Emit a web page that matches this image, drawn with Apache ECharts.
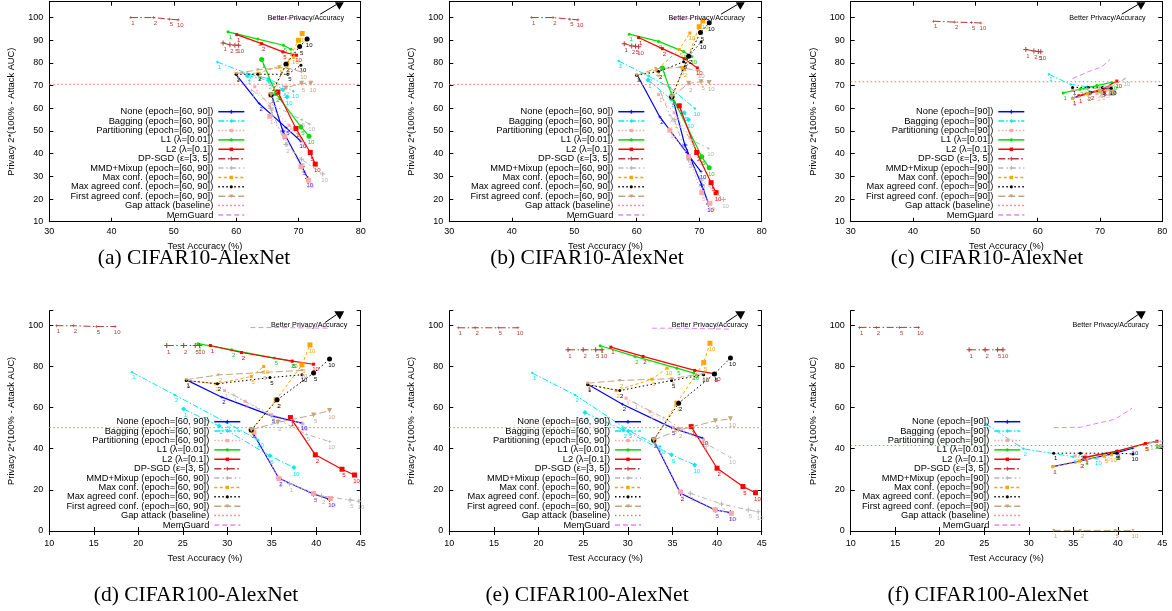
<!DOCTYPE html>
<html><head><meta charset="utf-8">
<script src="https://cdn.jsdelivr.net/npm/echarts@6/dist/echarts.min.js"></script>
<style>html,body{margin:0;padding:0;background:#fff;}#c{width:1172px;height:611px;}</style>
</head><body><div id="c"></div>
<script>
// ---------------- DATA ----------------
const ptLabels = ['1', '2', '5', '10'];
const captions = ['(a) CIFAR10-AlexNet', '(b) CIFAR10-AlexNet', '(c) CIFAR10-AlexNet',
                  '(d) CIFAR100-AlexNet', '(e) CIFAR100-AlexNet', '(f) CIFAR100-AlexNet'];
const names6090 = ['None (epoch=[60, 90])', 'Bagging (epoch=[60, 90])', 'Partitioning (epoch=[60, 90])',
  'L1 (λ=[0.01])', 'L2 (λ=[0.1])', 'DP-SGD (ε=[3, 5])', 'MMD+Mixup (epoch=[60, 90])',
  'Max conf. (epoch=[60, 90])', 'Max agreed conf. (epoch=[60, 90])', 'First agreed conf. (epoch=[60, 90])',
  'Gap attack (baseline)', 'MemGuard'];
const names90 = ['None (epoch=[90])', 'Bagging (epoch=[90])', 'Partitioning (epoch=[90])',
  'L1 (λ=[0.01])', 'L2 (λ=[0.1])', 'DP-SGD (ε=[3, 5])', 'MMD+Mixup (epoch=[90])',
  'Max conf. (epoch=[90])', 'Max agreed conf. (epoch=[90])', 'First agreed conf. (epoch=[90])',
  'Gap attack (baseline)', 'MemGuard'];
const xAxisCifar10 = [30, 80, 10];    // min, max, interval
const yAxisCifar10 = [10, 107, 10];
const xAxisCifar100 = [10, 45, 5];
const yAxisCifar100 = [0, 107, 20];
const arrowLabel = 'Better Privacy/Accuracy';
const arrowTop = [[71.2, 100], [73.5, 101.5], [77.6, 108.2]];   // text, tail, tip
const arrowBottom = [[39.2, 100], [41.0, 101.3], [43.3, 108.1]];

// (a)
const a_none = [[[60.0,74.9],[63.7,62.1],[68.0,51.5],[70.4,45.5]], [[65.7,65.8],[67.5,50.0],[70.6,34.2],[71.5,29.0]]];
const a_bag = [[[57.0,80.4],[61.8,75.3],[65.1,73.1],[69.2,67.5]], [[61.8,74.4],[65.2,72.3],[67.5,68.2],[68.2,65.0]]];
const a_part = [[[63.0,69.5],[65.4,61.0],[68.5,52.5],[70.5,46.5]], [[65.4,56.5],[67.8,47.7],[70.4,34.2],[71.6,28.3]]];
const a_l1 = [[[58.7,93.7],[63.5,90.5],[67.6,87.8],[68.8,86.0]], [[64.1,81.5],[66.4,66.5],[70.4,51.8],[71.7,47.7]]];
const a_l2 = [[[60.1,92.5],[64.1,88.5],[67.5,84.9],[69.7,83.4]], [[66.7,67.2],[69.6,51.1],[71.9,40.5],[72.7,35.4]]];
const a_dp = [[[43.1,100],[46.7,100],[49.3,99.3],[50.7,99.0]], [[57.9,88.8],[59.0,88.0],[59.8,87.8],[60.4,87.8]]];
const a_mmd = [[[62.5,68.0],[65.5,62.0],[70.5,55.0],[71.8,53.0]], [[65.5,60.0],[68.0,44.0],[70.5,37.5],[73.9,31.0]]];
const a_maxc = [[[60.0,75.2],[63.5,75.5],[66.9,78.4],[69.2,82.5]], [[65.6,65.8],[68.1,79.5],[70.0,90.0],[70.6,93.0]]];
const a_maxag = [[[60.0,75.0],[63.5,75.0],[68.3,75.0],[70.4,79.0]], [[65.6,66.0],[68.0,79.4],[70.2,87.3],[71.4,90.6]]];
const a_first = [[[60.0,75.3],[63.5,77.0],[68.0,78.0],[70.5,76.0]], [[65.6,66.0],[68.0,69.0],[70.5,71.0],[72.0,71.0]]];
const a_mem = [[[65.5,99.6],[68.1,99.5],[70.2,99.4],[71.4,99.3]]];
const a_gap = 70.6;

// (b)
const b_none = [[[60.1,74.6],[63.7,56.2],[68.0,40.4],[70.3,32.0]], [[65.7,65.1],[67.7,43.8],[70.4,26.2],[71.5,17.8]]];
const b_bag = [[[57.1,80.9],[61.9,74.2],[65.3,69.2],[69.3,59.9]], [[61.8,72.5],[65.5,64.0],[67.6,58.0],[68.3,55.0]]];
const b_part = [[[63.5,66.0],[66.0,58.0],[68.5,47.0],[70.2,38.0]], [[65.3,50.4],[68.3,38.6],[70.4,22.8],[71.7,18.1]]];
const b_l1 = [[[58.8,92.7],[63.5,89.5],[67.5,85.0],[68.8,82.8]], [[64.1,77.8],[65.7,65.1],[70.4,38.6],[71.6,33.8]]];
const b_l2 = [[[60.3,91.2],[64.1,86.3],[67.6,81.9],[69.7,77.8]], [[66.8,61.1],[69.6,40.5],[71.9,27.2],[72.7,22.8]]];
const b_dp = [[[43.2,100],[46.6,100],[49.3,99.3],[50.6,99.0]], [[58.0,88.5],[59.2,87.5],[59.8,87.4],[60.3,87.1]]];
const b_mmd = [[[63.8,67.3],[65.3,57.0],[68.8,46.0],[71.5,42.3]], [[66.0,55.0],[68.3,37.2],[70.4,28.4],[73.9,19.8]]];
const b_maxc = [[[60.0,74.6],[63.2,76.8],[66.8,85.9],[68.5,93.2]], [[65.6,65.0],[67.5,77.5],[70.0,96.0],[70.6,98.5]]];
const b_maxag = [[[60.0,74.6],[63.5,76.2],[67.5,80.5],[70.3,89.2]], [[65.6,65.0],[68.3,83.0],[70.2,93.4],[71.6,97.7]]];
const b_first = [[[60.0,74.6],[63.0,77.5],[67.0,78.0],[70.0,76.5]], [[65.6,65.0],[68.3,71.0],[70.3,71.7],[71.6,71.4]]];
const b_mem = [[[65.5,99.6],[68.3,99.5],[70.3,99.4],[71.5,99.3]]];
const b_gap = 70.5;

// (c)
const c_none = [[[65.6,64.5],[68.0,66.5],[70.3,68.0],[71.7,69.3]]];
const c_bag = [[[61.8,75.0],[65.3,70.5],[68.0,69.5],[71.5,69.2]]];
const c_part = [[[69.5,66.5],[70.3,67.0],[71.0,67.8],[71.7,68.5]]];
const c_l1 = [[[64.1,66.8],[66.8,68.4],[69.5,70.0],[71.9,71.4]]];
const c_l2 = [[[66.6,65.5],[68.5,67.0],[70.5,68.5],[72.7,72.0]]];
const c_dp = [[[43.3,98.4],[46.7,98.0],[49.4,97.8],[50.9,97.6]], [[58.1,85.9],[59.4,85.3],[60.1,85.0],[60.5,84.9]]];
const c_mmd = [[[67.8,67.0],[69.8,68.0],[71.8,69.5],[74.0,73.0]]];
const c_maxc = [[[65.6,64.3],[68.0,66.3],[70.0,67.7],[71.5,68.5]]];
const c_maxag = [[[65.6,69.2],[68.1,69.2],[70.4,69.2],[71.8,68.8]]];
const c_first = [[[65.6,67.8],[68.0,68.5],[70.0,69.0],[71.5,69.5]]];
const c_mem = [[[65.6,73.1],[68.1,76.1],[70.3,78.3],[71.6,81.5]]];
const c_gap = 71.7;

// (d)
const d_none = [[[25.4,73.4],[29.4,65.0],[35.0,55.9],[38.4,52.4]], [[32.7,49.2],[35.8,25.6],[39.7,18.0],[41.5,15.4]]];
const d_bag = [[[19.3,77.1],[24.1,66.1],[29.9,52.7],[33.5,44.2]], [[25.1,59.2],[29.1,51.0],[34.8,36.5],[37.5,30.8]]];
const d_part = [[[29.7,68.2],[32.0,63.0],[35.0,56.5],[38.5,52.0]], [[33.0,48.0],[35.8,25.5],[39.7,18.2],[41.6,15.8]]];
const d_l1 = [[[26.7,91.0],[30.5,88.0],[35.3,84.0],[37.3,82.5]]];
const d_l2 = [[[28.1,90.1],[31.6,86.7],[37.3,82.5],[39.7,81.0]], [[37.1,55.1],[39.9,37.0],[42.9,30.0],[44.3,27.2]]];
const d_dp = [[[10.8,99.7],[12.7,99.7],[15.3,99.3],[17.4,99.3]], [[23.2,90.1],[25.1,90.1],[26.4,90.1],[26.9,90.1]]];
const d_mmd = [[[30.7,66.1],[35.0,55.7],[38.9,47.0],[41.5,43.4]], [[37.0,23.0],[40.6,17.0],[43.8,15.1],[44.8,14.5]]];
const d_maxc = [[[25.4,73.1],[28.7,71.5],[32.7,75.0],[34.1,79.9]], [[32.7,49.0],[35.5,63.7],[38.4,80.7],[39.3,90.4]]];
const d_maxag = [[[25.4,73.1],[28.9,71.5],[34.8,74.5],[38.4,75.9]], [[32.7,49.0],[35.6,63.7],[39.7,76.7],[41.5,83.5]]];
const d_first = [[[25.4,73.5],[29.0,75.8],[34.0,77.0],[38.4,78.0]], [[32.7,49.2],[35.7,52.7],[39.7,56.4],[41.5,58.5]]];
const d_mem = [[[32.6,98.8],[35.7,98.8],[39.7,98.6],[41.5,98.5]]];
const d_gap = 50.2;

// (e)
const e_none = [[[25.5,71.3],[29.4,61.6],[34.9,50.2],[38.4,45.1]], [[32.9,44.2],[35.9,18.3],[39.8,10.2],[41.5,8.9]]];
const e_bag = [[[19.3,76.7],[24.1,66.1],[30.1,48.8],[33.6,41.0]], [[25.2,57.5],[29.5,49.1],[34.9,37.0],[37.5,32.1]]];
const e_part = [[[29.8,64.5],[32.5,58.0],[35.1,50.4],[38.5,44.2]], [[32.9,44.5],[35.9,19.0],[39.8,10.3],[41.6,8.6]]];
const e_l1 = [[[26.9,90.0],[30.8,84.8],[35.5,79.1],[37.4,76.7]]];
const e_l2 = [[[28.1,89.3],[31.7,84.8],[37.5,78.0],[39.8,76.3]], [[37.1,50.7],[40.0,30.5],[42.9,21.6],[44.3,18.6]]];
const e_dp = [[[11.0,98.7],[12.9,98.7],[15.5,98.7],[17.7,98.7]], [[23.3,88.0],[25.0,88.0],[26.4,88.0],[27.1,88.0]]];
const e_mmd = [[[30.7,62.5],[34.0,55.0],[38.5,43.0],[41.5,35.8]], [[37.0,18.3],[40.5,13.1],[43.5,10.2],[44.6,9.4]]];
const e_maxc = [[[25.5,71.3],[28.7,68.2],[32.7,73.7],[34.4,79.1]], [[32.9,44.2],[35.5,62.1],[38.5,81.8],[39.2,91.2]]];
const e_maxag = [[[25.5,71.0],[29.1,68.2],[34.9,73.1],[38.5,75.9]], [[32.9,44.2],[35.7,62.1],[39.7,76.3],[41.5,84.0]]];
const e_first = [[[25.5,71.8],[29.1,73.1],[34.9,74.0],[38.5,76.5]], [[32.9,44.2],[35.7,49.0],[39.8,53.5],[41.5,54.5]]];
const e_mem = [[[32.7,98.5],[35.8,98.5],[39.8,98.2],[41.6,98.0]]];
const e_gap = 50.2;

// (f)
const f_none = [[[32.7,31.3],[35.8,34.0],[39.7,37.8],[41.7,40.2]]];
const f_bag = [[[25.2,52.0],[29.4,39.9],[35.0,36.1],[37.6,35.3]]];
const f_part = [[[35.2,36.5],[36.4,36.8],[37.6,37.0],[38.6,37.4]]];
const f_l1 = [[[36.3,35.7],[39.8,38.5],[43.0,42.3],[44.3,43.4]]];
const f_l2 = [[[36.3,35.8],[39.9,38.8],[43.1,42.5],[44.4,43.6]]];
const f_dp = [[[11.0,98.9],[12.9,98.9],[15.5,98.9],[17.6,98.9]], [[23.3,88.0],[25.1,88.0],[26.5,88.0],[27.1,88.0]]];
const f_mmd = [[[43.6,42.8],[44.3,43.3],[44.8,43.6],[45.6,44.0]]];
const f_maxc = [[[32.7,31.2],[35.7,34.0],[38.5,36.3],[39.3,37.0]]];
const f_maxag = [[[32.8,37.8],[35.8,37.8],[39.9,37.8],[41.7,37.4]]];
const f_first = [[[32.8,0.3],[35.8,0.3],[39.7,0.3],[41.7,0.3]]];
const f_mem = [[[32.8,50.2],[35.8,50.4],[39.7,54.3],[41.6,59.6]]];
const f_gap = 41.5;

// ---------------- STYLE / LAYOUT ----------------
const FONT = '"Liberation Sans", Arial, sans-serif';
const PLUS = 'path://M4,0H6V4H10V6H6V10H4V6H0V4H4Z';
const TRI = 'path://M0,0L10,0L5,9Z';
const KEYS = ['none','bag','part','l1','l2','dp','mmd','maxc','maxag','first','gap','mem'];
const STY = {
  none:  {color:'#0000ff', dash:'solid', w:1.2, sym:PLUS},
  bag:   {color:'#00eaf0', dash:[6,2,1.5,2], w:1, sym:'diamond'},
  part:  {color:'#ffa8a8', dash:[1.5,2], w:1, sym:'rect'},
  l1:    {color:'#00dd00', dash:'solid', w:1.2, sym:'circle'},
  l2:    {color:'#ff0000', dash:'solid', w:1.2, sym:'rect'},
  dp:    {color:'#b03a3a', dash:[7,2.5,1.5,2.5], w:1, sym:PLUS},
  mmd:   {color:'#b4b4b4', dash:[5,3,1.5,3], w:1, sym:PLUS},
  maxc:  {color:'#ffa500', dash:[3,2.5], w:1, sym:'rect'},
  maxag: {color:'#000000', dash:[1.5,2.5], w:1, sym:'circle'},
  first: {color:'#c4a57f', dash:[7,3], w:1, sym:TRI},
  gap:   {color:'#ff7070', dash:[1.5,2.5], w:1, sym:'none'},
  mem:   {color:'#ee82ee', dash:[5,3], w:1, sym:'none'}
};
const panels = [
  {g:{left:49.3, top:1.7, width:311.4, height:220}, xa:xAxisCifar10, ya:yAxisCifar10, names:names6090, leg:{tx:213.3, y0:111.7}, arrow:arrowTop, xm:5, cap:[194,258],
   d:{none:a_none,bag:a_bag,part:a_part,l1:a_l1,l2:a_l2,dp:a_dp,mmd:a_mmd,maxc:a_maxc,maxag:a_maxag,first:a_first,mem:a_mem}, gap:a_gap},
  {g:{left:449.3, top:1.7, width:312.4, height:220}, xa:xAxisCifar10, ya:yAxisCifar10, names:names6090, leg:{tx:613.3, y0:111.7}, arrow:arrowTop, xm:5, cap:[587,258],
   d:{none:b_none,bag:b_bag,part:b_part,l1:b_l1,l2:b_l2,dp:b_dp,mmd:b_mmd,maxc:b_maxc,maxag:b_maxag,first:b_first,mem:b_mem}, gap:b_gap},
  {g:{left:850.7, top:1.7, width:311.6, height:220}, xa:xAxisCifar10, ya:yAxisCifar10, names:names90, leg:{tx:993.3, y0:111.7}, arrow:arrowTop, xm:5, cap:[987,258],
   d:{none:c_none,bag:c_bag,part:c_part,l1:c_l1,l2:c_l2,dp:c_dp,mmd:c_mmd,maxc:c_maxc,maxag:c_maxag,first:c_first,mem:c_mem}, gap:c_gap},
  {g:{left:49.3, top:310.7, width:311.4, height:220.3}, xa:xAxisCifar100, ya:yAxisCifar100, names:names6090, leg:{tx:209.3, y0:421.7}, arrow:arrowBottom, xm:8, cap:[196,595],
   d:{none:d_none,bag:d_bag,part:d_part,l1:d_l1,l2:d_l2,dp:d_dp,mmd:d_mmd,maxc:d_maxc,maxag:d_maxag,first:d_first,mem:d_mem}, gap:d_gap},
  {g:{left:449.3, top:310.7, width:312.4, height:220.3}, xa:xAxisCifar100, ya:yAxisCifar100, names:names6090, leg:{tx:610, y0:421.7}, arrow:arrowBottom, xm:8, cap:[587,595],
   d:{none:e_none,bag:e_bag,part:e_part,l1:e_l1,l2:e_l2,dp:e_dp,mmd:e_mmd,maxc:e_maxc,maxag:e_maxag,first:e_first,mem:e_mem}, gap:e_gap},
  {g:{left:850.7, top:310.7, width:311.6, height:220.3}, xa:xAxisCifar100, ya:yAxisCifar100, names:names90, leg:{tx:989.3, y0:421.7}, arrow:arrowBottom, xm:8, cap:[988,595],
   d:{none:f_none,bag:f_bag,part:f_part,l1:f_l1,l2:f_l2,dp:f_dp,mmd:f_mmd,maxc:f_maxc,maxag:f_maxag,first:f_first,mem:f_mem}, gap:f_gap}
];

// ---------------- BUILD ----------------
const chart = echarts.init(document.getElementById('c'), null, {renderer:'canvas'});
const grids = [], xAxes = [], yAxes = [], series = [];
const axBase = {
  type:'value', axisLine:{lineStyle:{color:'#000', width:1}},
  axisTick:{inside:true, length:4, lineStyle:{color:'#000'}},
  splitLine:{show:false}
};
panels.forEach((p, i) => {
  grids.push(Object.assign({containLabel:false}, p.g));
  const [xmin, xmax, xint] = p.xa, [ymin, ymax, yint] = p.ya;
  xAxes.push(Object.assign({}, axBase, {gridIndex:i, position:'bottom', min:xmin, max:xmax, interval:xint,
    axisLabel:{fontSize:9, color:'#000', fontFamily:FONT, margin:p.xm},
    name:'Test Accuracy (%)', nameLocation:'middle', nameGap:p.xm + 15,
    nameTextStyle:{fontSize:9.3, color:'#000', fontFamily:FONT}}));
  xAxes.push(Object.assign({}, axBase, {gridIndex:i, position:'top', min:xmin, max:xmax, interval:xint, axisLabel:{show:false}}));
  yAxes.push(Object.assign({}, axBase, {gridIndex:i, position:'left', min:ymin, max:ymax, interval:yint,
    axisLabel:{fontSize:9, color:'#000', fontFamily:FONT, margin:6, formatter:v => (v % yint === 0 ? String(v) : '')},
    name:'Privacy 2*(100% - Attack AUC)', nameLocation:'middle', nameGap:33, nameRotate:90,
    nameTextStyle:{fontSize:9.3, color:'#000', fontFamily:FONT}}));
  yAxes.push(Object.assign({}, axBase, {gridIndex:i, position:'right', min:ymin, max:ymax, interval:yint, axisLabel:{show:false}}));

  KEYS.forEach((k, ki) => {
    const st = STY[k];
    let lines;
    if (k === 'gap') lines = [[[xmin, p.gap], [xmax, p.gap]]];
    else lines = p.d[k];
    lines.forEach((line, j) => {
      series.push({
        type:'line', xAxisIndex:2*i, yAxisIndex:2*i, data:line,
        symbol:st.sym, symbolSize:(j === 0 ? 3 : 5), showSymbol:st.sym !== 'none',
        lineStyle:{color:st.color, width:st.w, type:st.dash},
        itemStyle:{color:st.color},
        label:{show:k !== 'gap', position:'bottom', distance:1, offset:[2,0], fontSize:6, color:st.color,
               fontFamily:FONT, formatter:q => ptLabels[q.dataIndex]},
        silent:true, animation:false, z:2 + ki * 0.01
      });
    });
  });
});
chart.setOption({animation:false, backgroundColor:'#fff', grid:grids, xAxis:xAxes, yAxis:yAxes, series:series});

// clip a polygon to y >= yMin (keeps the arrow head inside the plot frame)
function clipBelow(pts, yMin) {
  const out = [];
  for (let k = 0; k < pts.length; k++) {
    const a = pts[k], b = pts[(k + 1) % pts.length];
    const ina = a[1] >= yMin, inb = b[1] >= yMin;
    if (ina) out.push(a);
    if (ina !== inb) {
      const t = (yMin - a[1]) / (b[1] - a[1]);
      out.push([a[0] + t * (b[0] - a[0]), yMin]);
    }
  }
  return out;
}

// graphics: legends, captions, arrow annotations
const gfx = [];
const STEP = 9.39;
panels.forEach((p, i) => {
  KEYS.forEach((k, ki) => {
    const st = STY[k];
    const y = p.leg.y0 + ki * STEP;
    const x1 = p.leg.tx + 5, x2 = p.leg.tx + 31;
    gfx.push({type:'text', x:p.leg.tx, y:y, silent:true, z:10,
      style:{text:p.names[ki], align:'right', verticalAlign:'middle', fill:'#000', font:'9.3px ' + FONT}});
    gfx.push({type:'line', silent:true, z:10, shape:{x1:x1, y1:y, x2:x2, y2:y},
      style:{stroke:st.color, lineWidth:1.5, lineDash:(st.dash === 'solid' ? null : st.dash)}});
    if (st.sym !== 'none') {
      const cx = (x1 + x2) / 2;
      if (st.sym === 'circle') gfx.push({type:'circle', silent:true, z:11, shape:{cx:cx, cy:y, r:1.6}, style:{fill:st.color}});
      else if (st.sym === 'rect') gfx.push({type:'rect', silent:true, z:11, shape:{x:cx-1.7, y:y-1.7, width:3.4, height:3.4}, style:{fill:st.color}});
      else if (st.sym === TRI) gfx.push({type:'polygon', silent:true, z:11, shape:{points:[[cx-2,y-1.6],[cx+2,y-1.6],[cx,y+1.8]]}, style:{fill:st.color}});
      else if (st.sym === 'diamond') gfx.push({type:'polygon', silent:true, z:11, shape:{points:[[cx,y-2],[cx+1.6,y],[cx,y+2],[cx-1.6,y]]}, style:{fill:st.color}});
      else gfx.push({type:'polygon', silent:true, z:11, shape:{points:[[cx-0.5,y-2],[cx+0.5,y-2],[cx+0.5,y-0.5],[cx+2,y-0.5],[cx+2,y+0.5],[cx+0.5,y+0.5],[cx+0.5,y+2],[cx-0.5,y+2],[cx-0.5,y+0.5],[cx-2,y+0.5],[cx-2,y-0.5],[cx-0.5,y-0.5]]}, style:{fill:st.color}});
    }
  });
  // caption
  gfx.push({type:'text', x:p.cap[0], y:p.cap[1], silent:true,
    style:{text:captions[i], align:'center', verticalAlign:'middle', fill:'#000', font:'21.5px "Liberation Serif", "Times New Roman", serif'}});
  // arrow annotation
  const finder = {xAxisIndex:2*i, yAxisIndex:2*i};
  const tp = chart.convertToPixel(finder, p.arrow[0]);
  const tail = chart.convertToPixel(finder, p.arrow[1]);
  const tip = chart.convertToPixel(finder, p.arrow[2]);
  gfx.push({type:'text', x:tp[0], y:tp[1], silent:true, z:12,
    style:{text:arrowLabel, align:'center', verticalAlign:'middle', fill:'#000', font:'7.2px ' + FONT}});
  const dx = tip[0] - tail[0], dy = tip[1] - tail[1], len = Math.hypot(dx, dy);
  const ux = dx / len, uy = dy / len, L = 11, W = 6;
  const bx = tip[0] - L * ux, by = tip[1] - L * uy, nx = -uy, ny = ux;
  const head = clipBelow([[tip[0], tip[1]], [bx + W*nx, by + W*ny], [bx - W*nx, by - W*ny]], p.g.top + 0.5);
  gfx.push({type:'line', silent:true, z:12, shape:{x1:tail[0], y1:tail[1], x2:bx, y2:by}, style:{stroke:'#000', lineWidth:1}});
  if (head.length >= 3) gfx.push({type:'polygon', silent:true, z:12, shape:{points:head}, style:{fill:'#000'}});
});
chart.setOption({graphic:gfx});
</script></body></html>
